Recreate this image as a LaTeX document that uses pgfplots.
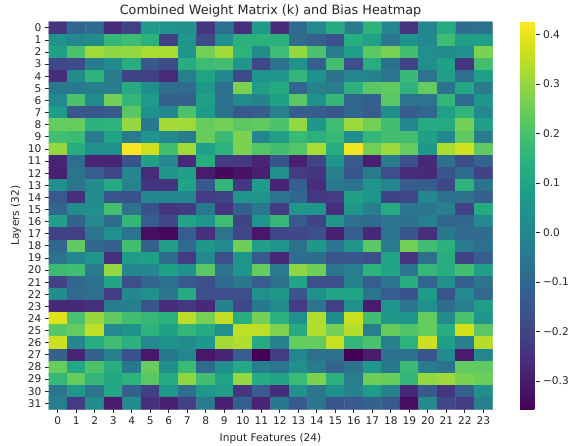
\documentclass[border=0pt]{standalone}
\usepackage{fontspec}
\setmainfont{DejaVu Sans}
\usepackage{pgfplots}
\pgfplotsset{compat=1.18}
\definecolor{txt}{HTML}{262626}
\begin{document}
\begin{tikzpicture}[x=1pt,y=1pt]
\useasboundingbox (0,0) rectangle (585,445);
\begin{axis}[
  at={(48.5pt,35.7pt)}, anchor=south west,
  scale only axis, width=444pt, height=387.6pt,
  y dir=reverse,
  enlargelimits=false,
  axis line style={draw=none},
  tick align=outside, major tick length=3.5pt,
  tick style={color=txt, line width=0.7pt},
  xtick pos=bottom, ytick pos=left,
  xtick={0,...,23}, ytick={0,...,31},
  /pgf/number format/assume math mode=true,
  tick label style={font=\fontsize{10.6}{11}\selectfont, text=txt},
  title={Combined Weight Matrix (k) and Bias Heatmap},
  title style={font=\fontsize{12.8}{13}\selectfont, text=txt, at={(0.5,1)}, anchor=south, yshift=-5pt},
  xlabel={Input Features (24)},
  ylabel={Layers (32)},
  label style={font=\fontsize{10.6}{11}\selectfont, text=txt},
  xlabel style={yshift=-2pt},
  ylabel style={yshift=0pt},
  colormap name=viridis,
  point meta min=-0.357, point meta max=0.4255,
  colorbar,
  colorbar style={
    at={(1.0624,1)}, anchor=north west, xshift=0pt,
    width=19.3pt, height=387.6pt,
    axis line style={draw=none},
    ytick={-0.3,-0.2,-0.1,0,0.1,0.2,0.3,0.4},
    yticklabels={−0.3,−0.2,−0.1,0.0,0.1,0.2,0.3,0.4},
    ytick pos=right, yticklabel pos=right,
    major tick length=3.5pt,
  },
]
\addplot[matrix plot*, mesh/cols=24, point meta=\thisrowno{0}]
  table[row sep=\\, header=false,
        x expr={mod(\coordindex,24)},
        y expr={floor((\coordindex+0.5)/24)}] {
-0.24\\ -0.10\\ -0.08\\ -0.26\\ -0.21\\ 0.07\\ 0.05\\ 0.03\\ -0.24\\ -0.07\\ -0.25\\ 0.07\\ -0.26\\ -0.09\\ 0.01\\ 0.12\\ -0.03\\ 0.15\\ 0.00\\ -0.24\\ 0.00\\ 0.12\\ -0.08\\ -0.07\\
0.04\\ 0.00\\ 0.02\\ 0.16\\ 0.18\\ 0.14\\ -0.21\\ 0.05\\ -0.18\\ 0.03\\ 0.14\\ 0.14\\ 0.14\\ -0.08\\ -0.12\\ -0.16\\ 0.13\\ 0.09\\ -0.05\\ 0.04\\ 0.01\\ 0.18\\ 0.08\\ 0.08\\
0.09\\ 0.205\\ 0.315\\ 0.295\\ 0.30\\ 0.325\\ 0.325\\ 0.05\\ 0.26\\ 0.32\\ 0.15\\ 0.02\\ 0.18\\ 0.30\\ 0.20\\ -0.03\\ 0.08\\ 0.23\\ 0.265\\ 0.19\\ 0.03\\ 0.02\\ 0.03\\ 0.27\\
-0.19\\ -0.18\\ -0.03\\ 0.02\\ 0.13\\ -0.14\\ -0.18\\ 0.13\\ 0.18\\ 0.19\\ 0.05\\ -0.19\\ -0.06\\ 0.04\\ -0.12\\ 0.19\\ -0.17\\ 0.13\\ -0.07\\ -0.20\\ 0.03\\ 0.09\\ -0.24\\ 0.19\\
-0.26\\ 0.02\\ 0.15\\ -0.03\\ -0.20\\ -0.21\\ -0.26\\ -0.02\\ 0.10\\ 0.00\\ -0.18\\ 0.05\\ 0.05\\ 0.16\\ 0.04\\ -0.07\\ 0.00\\ -0.01\\ -0.05\\ 0.17\\ -0.06\\ 0.08\\ -0.07\\ 0.08\\
-0.04\\ -0.04\\ -0.02\\ -0.03\\ 0.12\\ 0.03\\ -0.08\\ -0.09\\ 0.06\\ -0.07\\ 0.27\\ 0.08\\ 0.12\\ -0.10\\ -0.01\\ -0.03\\ 0.14\\ 0.225\\ 0.235\\ 0.15\\ 0.24\\ -0.06\\ 0.11\\ -0.03\\
0.01\\ 0.205\\ 0.02\\ 0.26\\ 0.16\\ 0.07\\ -0.11\\ -0.11\\ 0.09\\ -0.07\\ 0.02\\ -0.01\\ 0.09\\ 0.225\\ 0.04\\ 0.16\\ -0.10\\ -0.12\\ 0.225\\ -0.06\\ -0.06\\ 0.16\\ -0.09\\ 0.06\\
0.07\\ -0.15\\ -0.15\\ -0.14\\ 0.225\\ 0.04\\ 0.00\\ 0.205\\ 0.07\\ -0.06\\ -0.14\\ -0.13\\ -0.01\\ -0.13\\ -0.13\\ -0.15\\ -0.10\\ -0.13\\ 0.03\\ -0.13\\ -0.10\\ 0.09\\ 0.155\\ 0.01\\
0.24\\ 0.245\\ 0.14\\ 0.15\\ 0.30\\ -0.04\\ 0.32\\ 0.315\\ 0.245\\ 0.26\\ 0.23\\ 0.235\\ 0.205\\ 0.30\\ 0.06\\ 0.185\\ 0.31\\ 0.26\\ 0.19\\ 0.00\\ 0.12\\ 0.12\\ 0.26\\ 0.09\\
0.19\\ 0.175\\ -0.03\\ 0.10\\ -0.03\\ 0.05\\ 0.01\\ -0.03\\ 0.245\\ 0.175\\ 0.27\\ 0.00\\ 0.08\\ 0.175\\ 0.14\\ 0.165\\ 0.03\\ 0.16\\ 0.19\\ 0.19\\ 0.09\\ 0.00\\ 0.235\\ -0.03\\
0.30\\ 0.13\\ 0.03\\ 0.03\\ 0.42\\ 0.37\\ 0.19\\ 0.315\\ 0.09\\ 0.15\\ 0.27\\ 0.215\\ 0.19\\ 0.215\\ 0.325\\ 0.13\\ 0.41\\ 0.26\\ 0.31\\ 0.24\\ 0.06\\ 0.33\\ 0.37\\ 0.235\\
-0.28\\ -0.08\\ -0.28\\ -0.28\\ -0.16\\ 0.09\\ 0.00\\ -0.27\\ 0.13\\ -0.22\\ -0.23\\ -0.28\\ -0.15\\ -0.29\\ -0.20\\ 0.05\\ -0.14\\ -0.29\\ -0.03\\ -0.16\\ -0.27\\ -0.07\\ -0.18\\ -0.11\\
-0.29\\ -0.06\\ -0.13\\ -0.19\\ 0.00\\ -0.26\\ 0.06\\ 0.08\\ -0.30\\ -0.34\\ -0.32\\ -0.29\\ 0.03\\ -0.22\\ -0.24\\ -0.02\\ -0.15\\ -0.03\\ -0.17\\ -0.26\\ -0.27\\ -0.15\\ -0.09\\ -0.20\\
0.03\\ -0.05\\ 0.02\\ 0.12\\ -0.01\\ -0.24\\ -0.24\\ 0.10\\ -0.14\\ 0.16\\ -0.23\\ 0.07\\ -0.28\\ -0.12\\ -0.26\\ -0.04\\ -0.06\\ 0.05\\ 0.00\\ -0.13\\ -0.13\\ -0.19\\ 0.15\\ -0.06\\
-0.14\\ -0.25\\ 0.02\\ -0.15\\ -0.16\\ 0.00\\ 0.00\\ 0.00\\ -0.22\\ -0.20\\ 0.05\\ 0.05\\ -0.05\\ -0.10\\ -0.23\\ -0.22\\ 0.09\\ 0.05\\ -0.20\\ -0.19\\ 0.00\\ -0.07\\ -0.07\\ -0.12\\
-0.10\\ 0.02\\ 0.03\\ 0.19\\ -0.06\\ -0.16\\ -0.24\\ -0.22\\ -0.04\\ -0.24\\ -0.12\\ -0.04\\ -0.22\\ 0.05\\ 0.05\\ -0.25\\ 0.05\\ -0.02\\ 0.12\\ -0.05\\ -0.05\\ -0.02\\ -0.20\\ 0.12\\
0.08\\ -0.11\\ 0.01\\ -0.08\\ 0.16\\ -0.13\\ -0.19\\ 0.10\\ 0.05\\ 0.185\\ -0.20\\ 0.05\\ 0.165\\ -0.14\\ -0.20\\ 0.05\\ -0.07\\ -0.09\\ -0.05\\ -0.07\\ -0.02\\ -0.10\\ -0.10\\ 0.01\\
-0.20\\ -0.21\\ -0.05\\ 0.03\\ -0.06\\ -0.33\\ -0.34\\ -0.13\\ -0.25\\ -0.06\\ -0.19\\ -0.31\\ -0.19\\ -0.19\\ -0.17\\ -0.29\\ -0.13\\ -0.27\\ -0.05\\ -0.15\\ -0.25\\ -0.04\\ -0.09\\ -0.08\\
-0.10\\ 0.235\\ -0.10\\ -0.12\\ 0.19\\ -0.11\\ 0.08\\ -0.09\\ 0.06\\ 0.01\\ 0.255\\ 0.09\\ 0.05\\ -0.07\\ 0.06\\ -0.05\\ 0.05\\ 0.225\\ -0.03\\ 0.26\\ 0.185\\ 0.14\\ -0.03\\ -0.07\\
-0.06\\ 0.00\\ 0.05\\ -0.25\\ 0.07\\ 0.09\\ -0.08\\ -0.22\\ 0.01\\ -0.17\\ 0.05\\ -0.14\\ -0.27\\ -0.08\\ -0.08\\ -0.15\\ -0.15\\ -0.17\\ 0.10\\ -0.24\\ -0.07\\ 0.13\\ -0.20\\ -0.13\\
0.175\\ 0.185\\ -0.03\\ 0.30\\ 0.00\\ 0.00\\ 0.09\\ 0.04\\ 0.225\\ -0.06\\ 0.05\\ 0.24\\ -0.03\\ 0.295\\ 0.255\\ -0.05\\ -0.02\\ 0.15\\ 0.10\\ -0.05\\ 0.165\\ 0.13\\ 0.19\\ 0.09\\
-0.20\\ -0.10\\ -0.07\\ 0.10\\ -0.17\\ -0.10\\ -0.07\\ -0.14\\ -0.17\\ -0.09\\ -0.04\\ -0.13\\ -0.07\\ 0.10\\ -0.17\\ -0.17\\ -0.01\\ -0.13\\ -0.05\\ 0.13\\ -0.10\\ 0.03\\ -0.12\\ -0.06\\
0.02\\ -0.09\\ -0.07\\ -0.22\\ 0.00\\ 0.03\\ -0.05\\ 0.12\\ -0.17\\ -0.17\\ -0.17\\ 0.03\\ 0.06\\ -0.15\\ 0.03\\ 0.10\\ 0.10\\ -0.05\\ -0.13\\ -0.16\\ 0.07\\ -0.15\\ 0.01\\ -0.09\\
-0.27\\ -0.27\\ -0.25\\ -0.03\\ -0.02\\ -0.15\\ -0.26\\ -0.23\\ -0.27\\ -0.01\\ -0.19\\ -0.04\\ 0.02\\ -0.22\\ -0.05\\ -0.21\\ 0.03\\ -0.30\\ 0.05\\ -0.05\\ 0.03\\ -0.08\\ -0.02\\ 0.08\\
0.39\\ 0.20\\ 0.305\\ 0.235\\ 0.19\\ 0.165\\ 0.14\\ 0.345\\ 0.265\\ 0.355\\ 0.13\\ 0.26\\ 0.14\\ 0.03\\ 0.335\\ 0.02\\ 0.36\\ 0.19\\ 0.06\\ 0.05\\ 0.24\\ 0.02\\ 0.205\\ 0.05\\
0.22\\ 0.24\\ 0.35\\ 0.01\\ 0.04\\ 0.15\\ 0.09\\ 0.16\\ 0.12\\ 0.03\\ 0.35\\ 0.35\\ 0.275\\ 0.12\\ 0.335\\ 0.26\\ 0.34\\ -0.02\\ 0.245\\ 0.21\\ 0.24\\ 0.13\\ 0.375\\ 0.225\\
0.365\\ 0.00\\ 0.13\\ 0.185\\ 0.14\\ 0.01\\ 0.04\\ 0.02\\ 0.06\\ 0.32\\ 0.335\\ 0.12\\ -0.01\\ 0.24\\ 0.24\\ 0.36\\ 0.16\\ 0.20\\ -0.02\\ 0.15\\ 0.365\\ 0.08\\ -0.02\\ 0.34\\
-0.11\\ -0.28\\ -0.12\\ -0.02\\ -0.16\\ -0.31\\ -0.04\\ 0.00\\ -0.31\\ -0.28\\ -0.13\\ -0.36\\ -0.22\\ 0.00\\ -0.07\\ -0.07\\ -0.36\\ -0.30\\ -0.07\\ -0.07\\ -0.15\\ 0.01\\ -0.30\\ 0.00\\
0.245\\ 0.11\\ 0.205\\ 0.13\\ -0.04\\ 0.245\\ 0.03\\ 0.175\\ -0.09\\ 0.03\\ 0.11\\ -0.02\\ -0.05\\ 0.03\\ -0.03\\ -0.11\\ -0.06\\ 0.06\\ -0.04\\ 0.175\\ -0.03\\ -0.06\\ 0.235\\ 0.235\\
0.165\\ 0.24\\ 0.16\\ 0.11\\ 0.15\\ 0.225\\ 0.12\\ 0.295\\ 0.19\\ 0.10\\ 0.30\\ 0.12\\ 0.10\\ 0.175\\ 0.27\\ 0.14\\ -0.02\\ 0.255\\ 0.245\\ 0.16\\ 0.30\\ 0.31\\ 0.27\\ 0.25\\
-0.05\\ 0.06\\ -0.06\\ 0.11\\ -0.12\\ -0.21\\ 0.06\\ -0.07\\ 0.06\\ 0.08\\ -0.23\\ -0.13\\ -0.26\\ 0.04\\ -0.05\\ 0.04\\ -0.01\\ 0.07\\ -0.01\\ -0.27\\ -0.14\\ -0.24\\ -0.12\\ 0.03\\
-0.02\\ -0.22\\ 0.02\\ -0.30\\ 0.02\\ -0.25\\ -0.29\\ -0.21\\ -0.03\\ -0.29\\ -0.12\\ -0.28\\ -0.04\\ -0.14\\ -0.05\\ -0.15\\ -0.14\\ -0.11\\ -0.14\\ -0.33\\ 0.02\\ -0.19\\ -0.22\\ -0.02\\
};
\end{axis}
\end{tikzpicture}
\end{document}
